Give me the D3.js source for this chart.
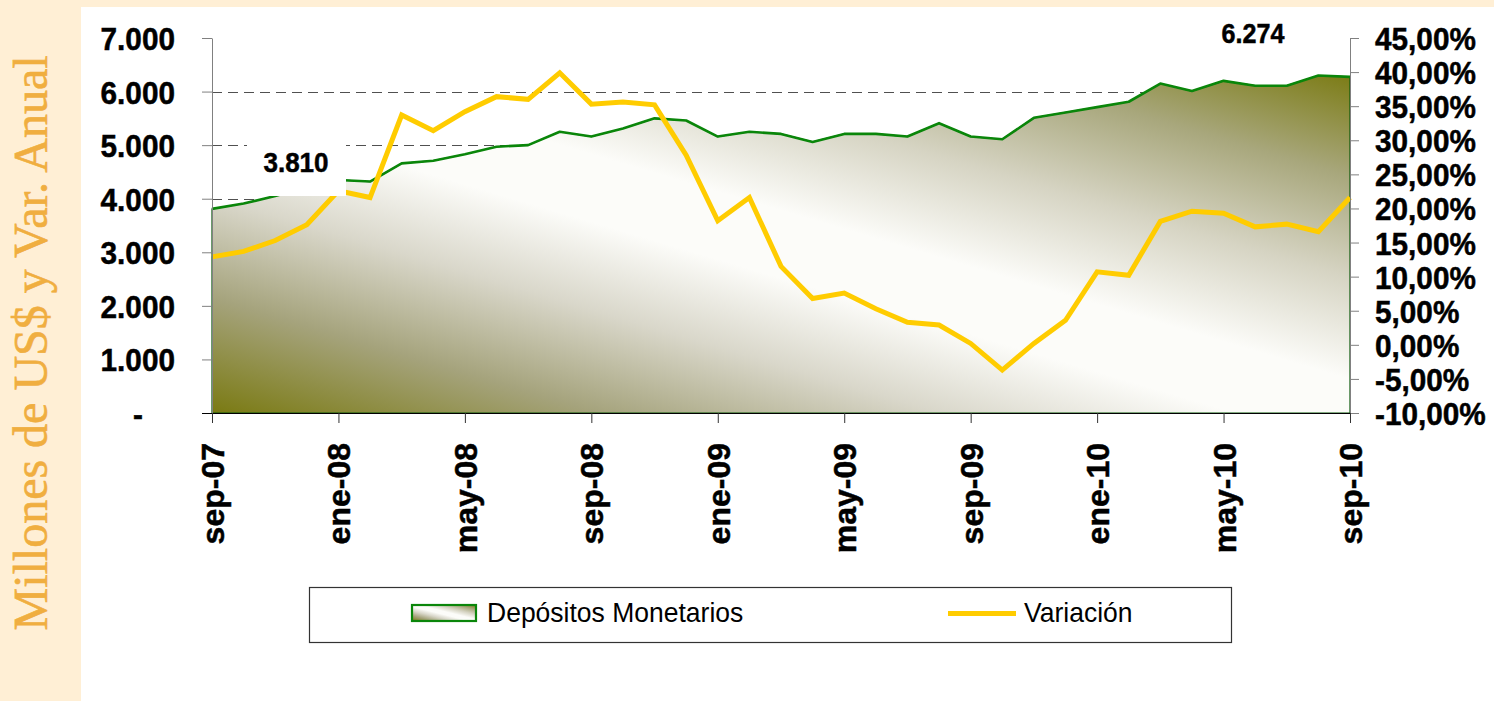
<!DOCTYPE html>
<html>
<head>
<meta charset="utf-8">
<script src="https://cdnjs.cloudflare.com/ajax/libs/d3/7.8.5/d3.min.js"></script>
<style>
  html, body { margin: 0; padding: 0; background: #FFEFD5; }
  svg { display: block; }
</style>
</head>
<body>
<svg id="chart" width="1494" height="701"></svg>
<script>
// months on the x axis (sep-07 .. sep-10)
var months = ["sep-07","oct-07","nov-07","dic-07",
  "ene-08","feb-08","mar-08","abr-08","may-08","jun-08","jul-08","ago-08","sep-08","oct-08","nov-08","dic-08",
  "ene-09","feb-09","mar-09","abr-09","may-09","jun-09","jul-09","ago-09","sep-09","oct-09","nov-09","dic-09",
  "ene-10","feb-10","mar-10","abr-10","may-10","jun-10","jul-10","ago-10","sep-10"];

// Depósitos Monetarios (millones de US$)
var depositos = [3810,3910,4050,4220,4350,4320,4660,4710,4830,4970,5000,5250,5160,5310,5500,5460,
  5160,5250,5210,5060,5210,5210,5160,5410,5160,5110,5510,5610,5710,5810,6150,6010,6200,6110,6110,6300,6274];

// Variación anual (%)
var variacion = [12.9,13.7,15.3,17.6,22.6,21.6,33.7,31.4,34.2,36.4,36.0,39.9,35.3,35.6,35.2,27.8,
  18.2,21.6,11.5,6.8,7.6,5.3,3.3,2.9,0.2,-3.7,0.2,3.6,10.7,10.2,18.1,19.6,19.3,17.3,17.7,16.6,21.6];

var leftTicks = [0,1000,2000,3000,4000,5000,6000,7000];
var rightTicks = [-10,-5,0,5,10,15,20,25,30,35,40,45];
var gridTicks = [1000,2000,3000,4000,5000,6000];
var xTickLabels = ["sep-07","ene-08","may-08","sep-08","ene-09","may-09","sep-09","ene-10","may-10","sep-10"];

var squeeze = 0.93;
var fontSans = "'Liberation Sans', Arial, sans-serif";

var svg = d3.select("#chart");

// background panels
svg.append("rect").attr("x",0).attr("y",0).attr("width",1494).attr("height",701).attr("fill","#FFEFD5");
svg.append("rect").attr("x",81).attr("y",7).attr("width",1413).attr("height",694).attr("fill","#ffffff");

// gradient for the area
var defs = svg.append("defs");
var grad = defs.append("linearGradient").attr("id","areaGrad")
  .attr("x1",0).attr("y1",1).attr("x2",1).attr("y2",0);
[[0,"#7a7a12"],[0.17,"#a5a37c"],[0.32,"#d9d7ca"],[0.45,"#fcfcf9"],[0.55,"#fcfcf9"],
 [0.7,"#d6d4c3"],[0.85,"#a8a77c"],[1,"#7c7c16"]].forEach(function(s){
  grad.append("stop").attr("offset",s[0]).attr("stop-color",s[1]);
});

var x = d3.scalePoint().domain(months).range([212,1350]);
var yL = d3.scaleLinear().domain([0,7000]).range([413,38]);
var yR = d3.scaleLinear().domain([-10,45]).range([413,38]);

// dashed gridlines (behind the area)
svg.append("g").selectAll("line").data(gridTicks).join("line")
  .attr("x1",212).attr("x2",1350)
  .attr("y1",function(d){ return Math.round(yL(d))+0.5; })
  .attr("y2",function(d){ return Math.round(yL(d))+0.5; })
  .attr("stroke","#505050").attr("stroke-width",1).attr("stroke-dasharray","10,6");

// area
var area = d3.area()
  .x(function(d,i){ return x(months[i]); })
  .y0(yL(0))
  .y1(function(d){ return yL(d); });
svg.append("path").datum(depositos)
  .attr("d",area)
  .attr("fill","url(#areaGrad)")
  .attr("stroke","#0a5a0a").attr("stroke-width",1.2);

var topLine = d3.line()
  .x(function(d,i){ return x(months[i]); })
  .y(function(d){ return yL(d); });
svg.append("path").datum(depositos)
  .attr("d",topLine)
  .attr("fill","none").attr("stroke","#0a860a").attr("stroke-width",2.6)
  .attr("stroke-linejoin","round");

// variación line on right scale
var varLine = d3.line()
  .x(function(d,i){ return x(months[i]); })
  .y(function(d){ return yR(d); });
svg.append("path").datum(variacion)
  .attr("d",varLine)
  .attr("fill","none").attr("stroke","#FFCC00").attr("stroke-width",5)
  .attr("stroke-linejoin","miter");

function boldLabel(sel, size) {
  sel.style("font-family",fontSans).style("font-weight","bold").style("font-size",size)
    .attr("fill","#000").attr("stroke","#000").attr("stroke-width",0.5);
}

// left axis
var axL = svg.append("g").attr("transform","translate(212,0)")
  .call(d3.axisLeft(yL).tickValues(leftTicks).tickSize(10).tickSizeOuter(0)
    .tickFormat(function(d){ return d===0 ? "-" : d3.format(",")(d).replace(/,/g,"."); }));
axL.select(".domain").attr("stroke","#808080");
axL.selectAll(".tick line").attr("stroke","#808080");
axL.selectAll(".tick text")
  .attr("x",null).attr("dy","0.36em")
  .attr("transform",function(d){ return "translate(" + (d===0 ? -69 : -37) + ",0) scale(" + squeeze + ",1)"; })
  .call(boldLabel, "32px");

// right axis
var axR = svg.append("g").attr("transform","translate(1350,0)")
  .call(d3.axisRight(yR).tickValues(rightTicks).tickSize(9).tickSizeOuter(0)
    .tickFormat(function(d){ return d.toFixed(2).replace(".",",") + "%"; }));
axR.select(".domain").attr("stroke","#808080");
axR.selectAll(".tick line").attr("stroke","#808080");
axR.selectAll(".tick text")
  .attr("x",null).attr("dy","0.36em")
  .attr("transform","translate(25,0) scale(" + squeeze + ",1)")
  .call(boldLabel, "32px");

// bottom axis
var axB = svg.append("g").attr("transform","translate(0,413)")
  .call(d3.axisBottom(x).tickValues(xTickLabels).tickSize(10).tickSizeOuter(0));
axB.select(".domain").attr("stroke","#000").attr("d","M202,0.5H1350");
axB.selectAll(".tick line").attr("stroke","#333");
axB.selectAll(".tick text")
  .attr("y",null).attr("dy","0.36em")
  .attr("transform","translate(0,30) rotate(-90)")
  .style("text-anchor","end")
  .call(boldLabel, "32px");

// data labels
svg.append("rect").attr("x",247).attr("y",138).attr("width",99).attr("height",58).attr("fill","#fff");
svg.append("text").text(d3.format(",")(depositos[0]).replace(/,/g,"."))
  .attr("transform","translate(296,172) scale(" + squeeze + ",1)")
  .attr("text-anchor","middle")
  .call(boldLabel, "28px");
svg.append("text").text(d3.format(",")(depositos[depositos.length-1]).replace(/,/g,"."))
  .attr("transform","translate(1253,43) scale(" + squeeze + ",1)")
  .attr("text-anchor","middle")
  .call(boldLabel, "27px");

// y axis title
svg.append("text").text("Millones de US$ y Var. Anual")
  .attr("transform","translate(47,343) rotate(-90)")
  .attr("text-anchor","middle")
  .style("font-family","'Liberation Serif', 'Times New Roman', serif")
  .style("font-size","48px").attr("fill","#F0AE40")
  .attr("stroke","#F0AE40").attr("stroke-width",0.6);

// legend
var legend = svg.append("g");
legend.append("rect").attr("x",309.5).attr("y",587.5).attr("width",922).attr("height",55)
  .attr("fill","#fff").attr("stroke","#333").attr("stroke-width",1.2);
legend.append("rect").attr("x",412).attr("y",605).attr("width",64).attr("height",16)
  .attr("fill","url(#areaGrad)").attr("stroke","#0a860a").attr("stroke-width",2.2);
legend.append("text").text("Depósitos Monetarios")
  .attr("transform","translate(487,622) scale(" + squeeze + ",1)")
  .style("font-family",fontSans).style("font-size","28.5px");
legend.append("line").attr("x1",948).attr("x2",1016).attr("y1",613.5).attr("y2",613.5)
  .attr("stroke","#FFCC00").attr("stroke-width",5);
legend.append("text").text("Variación")
  .attr("transform","translate(1024,622) scale(" + squeeze + ",1)")
  .style("font-family",fontSans).style("font-size","28.5px");
</script>
</body>
</html>
